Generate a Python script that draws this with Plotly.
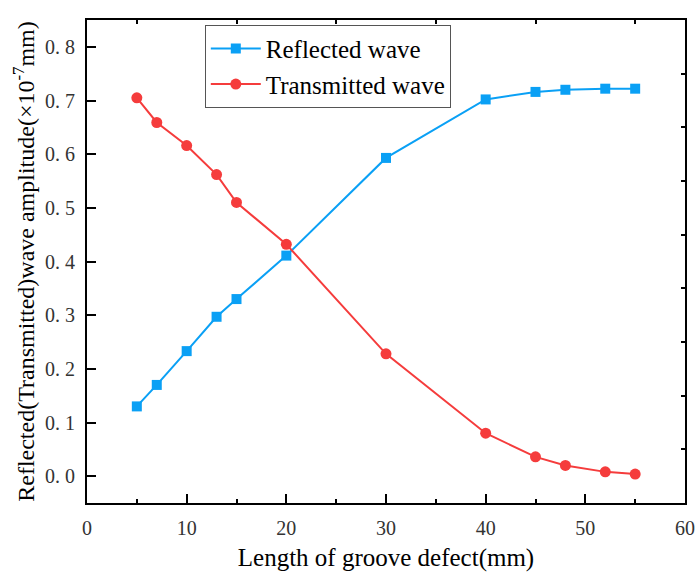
import plotly.graph_objects as go

length_mm = [5, 7, 10, 13, 15, 20, 30, 40, 45, 48, 52, 55]
reflected = [0.130, 0.170, 0.233, 0.297, 0.330, 0.411, 0.593, 0.702, 0.716, 0.720, 0.722, 0.722]
transmitted = [0.705, 0.659, 0.616, 0.562, 0.510, 0.432, 0.228, 0.080, 0.036, 0.020, 0.008, 0.004]

y_tickvals = [0.0, 0.1, 0.2, 0.3, 0.4, 0.5, 0.6, 0.7, 0.8]
y_ticktext = ["0. 0", "0. 1", "0. 2", "0. 3", "0. 4", "0. 5", "0. 6", "0. 7", "0. 8"]
x_tickvals = [0, 10, 20, 30, 40, 50, 60]
top_minor = [5, 15, 25, 35, 45, 55]
right_minor = [0.05, 0.15, 0.25, 0.35, 0.45, 0.55, 0.65, 0.75]

BLUE = "rgb(10,160,245)"
RED = "rgb(245,60,60)"
SERIF = "Liberation Serif"

fig = go.Figure()
fig.add_trace(go.Scatter(x=length_mm, y=reflected, name="Reflected wave", mode="lines+markers",
                         line=dict(color=BLUE, width=2),
                         marker=dict(symbol="square", size=10, color=BLUE)))
fig.add_trace(go.Scatter(x=length_mm, y=transmitted, name="Transmitted wave", mode="lines+markers",
                         line=dict(color=RED, width=2),
                         marker=dict(symbol="circle", size=11, color=RED)))
# helper traces so the mirrored top/right axes are drawn
fig.add_trace(go.Scatter(x=[None], y=[None], xaxis="x2", yaxis="y", showlegend=False, hoverinfo="skip"))
fig.add_trace(go.Scatter(x=[None], y=[None], xaxis="x", yaxis="y2", showlegend=False, hoverinfo="skip"))

fig.update_layout(
    width=696, height=572,
    margin=dict(l=87, r=11, t=20, b=69),
    paper_bgcolor="white", plot_bgcolor="white",
    font=dict(family=SERIF, color="black"),
    showlegend=True,
    legend=dict(x=0.197, y=0.99, xanchor="left", yanchor="top",
                bordercolor="#555555", borderwidth=1, bgcolor="white",
                font=dict(family=SERIF, size=25, color="black"),
                itemwidth=50, tracegroupgap=0),
    xaxis=dict(range=[0, 60], tickvals=x_tickvals, ticks="inside", ticklen=9, tickwidth=1.5,
               tickcolor="black", showline=True, linecolor="black", linewidth=2,
               showgrid=False, zeroline=False, automargin=False,
               minor=dict(ticks="inside", ticklen=4, tickwidth=1.5, tickcolor="black", dtick=5, tick0=0, showgrid=False),
               tickfont=dict(family=SERIF, size=20, color="#333333"),
               ticklabelstandoff=6,
               title=dict(text="Length of groove defect(mm)", font=dict(family=SERIF, size=25, color="black"),
                          standoff=10)),
    yaxis=dict(range=[-0.05, 0.85], tickvals=y_tickvals, ticktext=y_ticktext, ticks="inside",
               ticklen=9, tickwidth=1.5, tickcolor="black", showline=True, linecolor="black", linewidth=2,
               showgrid=False, zeroline=False, automargin=False,
               tickfont=dict(family=SERIF, size=20, color="#333333"),
               ticklabelstandoff=6,
               title=dict(text="Reflected(Transmitted)wave amplitude(×10<sup>-7</sup>mm)",
                          font=dict(family=SERIF, size=24, color="black"), standoff=4)),
    xaxis2=dict(overlaying="x", side="top", range=[0, 60], tickvals=top_minor, ticks="inside",
                ticklen=4, tickwidth=1.5, tickcolor="black", showticklabels=False, automargin=False,
                showline=True, linecolor="black", linewidth=2, showgrid=False, zeroline=False),
    yaxis2=dict(overlaying="y", side="right", range=[-0.05, 0.85], tickvals=right_minor, ticks="inside",
                ticklen=4, tickwidth=1.5, tickcolor="black", showticklabels=False, automargin=False,
                showline=True, linecolor="black", linewidth=2, showgrid=False, zeroline=False),
)

fig.write_html("out.html", config={"displayModeBar": False},
               post_script="document.body.style.margin='0';")
